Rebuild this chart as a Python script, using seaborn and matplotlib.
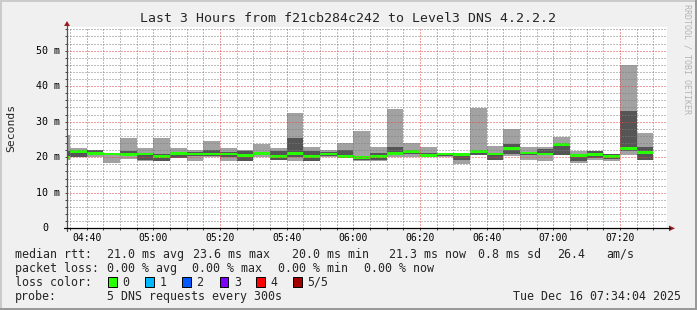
import numpy as np
import pandas as pd
import matplotlib
matplotlib.use("Agg")
import matplotlib.pyplot as plt
import matplotlib.transforms as mtransforms
from matplotlib.patches import Rectangle, Polygon
from matplotlib.lines import Line2D
import seaborn as sns

# ---------------- data ----------------
bar_start = ["04:30", "04:35", "04:40", "04:45", "04:50", "04:55",
             "05:00", "05:05", "05:10", "05:15", "05:20", "05:25",
             "05:30", "05:35", "05:40", "05:45", "05:50", "05:55",
             "06:00", "06:05", "06:10", "06:15", "06:20", "06:25",
             "06:30", "06:35", "06:40", "06:45", "06:50", "06:55",
             "07:00", "07:05", "07:10", "07:15", "07:20", "07:25"]
rtt_min = [19.2, 20.0, 20.0, 18.3, 19.5, 19.0, 18.9, 19.7, 18.9, 20.0, 18.9, 19.0,
           20.2, 19.2, 18.9, 18.9, 20.0, 20.0, 18.9, 18.9, 20.0, 20.0, 20.1, 20.0,
           18.1, 20.6, 19.2, 20.4, 19.2, 19.0, 20.6, 18.4, 19.3, 18.9, 20.6, 19.2]
rtt_p2 = [19.4, 20.1, 20.6, 20.7, 20.3, 19.3, 19.0, 19.8, 20.4, 20.3, 20.2, 19.0,
          20.6, 19.3, 20.1, 19.0, 20.3, 20.1, 19.2, 19.2, 20.5, 20.8, 20.3, 20.3,
          19.2, 20.7, 19.3, 21.0, 20.5, 20.5, 20.6, 19.0, 19.8, 19.6, 21.7, 19.2]
rtt_median = [20.0, 21.6, 21.1, 20.9, 20.8, 20.9, 20.3, 21.0, 20.9, 20.9, 20.9, 20.4,
              21.0, 20.3, 21.0, 20.3, 20.9, 20.3, 20.0, 20.1, 21.0, 21.7, 20.5, 20.9,
              20.8, 21.6, 20.9, 22.4, 21.2, 20.9, 23.6, 20.5, 20.7, 20.1, 22.5, 21.3]
rtt_p4 = [21.8, 22.0, 22.0, 21.1, 21.7, 21.0, 20.9, 21.4, 21.6, 22.0, 21.5, 21.8,
          21.3, 21.8, 25.4, 21.8, 21.6, 22.0, 20.3, 21.1, 23.0, 22.0, 21.2, 21.2,
          21.1, 22.0, 21.2, 23.6, 21.5, 22.3, 23.9, 21.0, 21.7, 20.9, 33.0, 22.9]
rtt_max = [26.3, 22.7, 22.1, 21.2, 25.4, 22.5, 25.4, 22.6, 22.0, 24.7, 22.5, 21.9,
           23.8, 22.6, 32.4, 23.0, 21.9, 23.9, 27.4, 23.0, 33.5, 23.9, 22.9, 21.3,
           21.2, 33.9, 23.3, 27.9, 22.9, 22.9, 25.8, 21.8, 21.8, 21.0, 46.0, 26.8]

x_tick_labels = ["04:40", "05:00", "05:20", "05:40", "06:00", "06:20", "06:40", "07:00", "07:20"]
y_tick_values = [0, 10, 20, 30, 40, 50]
y_tick_labels = ["0", "10 m", "20 m", "30 m", "40 m", "50 m"]

title = "Last 3 Hours from f21cb284c242 to Level3 DNS 4.2.2.2"
loss_labels = ["0", "1", "2", "3", "4", "5/5"]
loss_colors = ["#26ff00", "#00b8ff", "#0059ff", "#7e00ff", "#ff0000", "#a10000"]

# ---------------- helpers ----------------
W, H = 697, 310
def fx(px):
    return px / W
def fy(py):
    return 1 - py / H
def tmin(s):
    return int(s[:2]) * 60 + int(s[3:])

df = pd.DataFrame({"start": [tmin(s) for s in bar_start], "min": rtt_min, "p2": rtt_p2,
                   "med": rtt_median, "p4": rtt_p4, "max": rtt_max})

sns.set_theme(style="white")
MONO = ["DejaVu Sans Mono", "DejaVu Sans"]
plt.rcParams["font.family"] = MONO

fig = plt.figure(figsize=(W / 100, H / 100), dpi=100, facecolor="#f0f0f0")

y0_px, ytop_px = 228.3, 27.0
px_per_ms = 3.553
ax = fig.add_axes([fx(67), fy(y0_px), 600 / W, (y0_px - ytop_px) / H])
ax.set_facecolor("white")
for sp in ax.spines.values():
    sp.set_visible(False)

x_start = tmin("04:34") + 4 / 60
ax.set_xlim(x_start, x_start + 180)
ax.set_ylim(0, (y0_px - ytop_px) / px_per_ms)

# smoke bars
ax.bar(df["start"], df["max"] - df["min"], bottom=df["min"], width=5, align="edge",
       color="#a2a2a2", linewidth=0, zorder=1)
ax.bar(df["start"], df["p4"] - df["p2"], bottom=df["p2"], width=5, align="edge",
       color="#555555", linewidth=0, zorder=1.1)
ax.bar(df["start"], 0.8, bottom=df["med"] - 0.4, width=5, align="edge",
       color="#26ff00", linewidth=0, zorder=1.2)

# grid
major_x = [tmin(s) for s in x_tick_labels]
ax.set_xticks(major_x)
ax.set_xticks(np.arange(tmin("04:35"), tmin("07:35"), 5), minor=True)
ax.set_yticks(y_tick_values)
ax.set_yticks(np.arange(0, 57, 2), minor=True)
ax.set_axisbelow(False)
ax.grid(which="minor", color=(0.5, 0.5, 0.5, 0.3), linestyle=(0, (1, 2)), linewidth=0.72)
ax.grid(which="major", color=(0.9, 0.25, 0.25, 0.35), linestyle=(0, (1, 2)), linewidth=0.72)
ax.tick_params(which="both", direction="out", length=1.5, width=0.7, colors="#404040",
               labelleft=False, labelbottom=False, left=True, bottom=True)

# tick labels (placed via the axes' data scales)
tr_y = mtransforms.blended_transform_factory(fig.transFigure, ax.transData)
char_w = 0.602 * 7.2 * 100 / 72
for v, lab in zip(y_tick_values, y_tick_labels):
    xpos = 36 if len(lab) > 1 else 36 + char_w
    ax.text(fx(xpos), v, lab, transform=tr_y, ha="left", va="center", fontsize=7.2,
            color="black", clip_on=False)
tr_x = mtransforms.blended_transform_factory(ax.transData, fig.transFigure)
for t, lab in zip(major_x, x_tick_labels):
    ax.text(t, fy(238), lab, transform=tr_x, ha="center", va="center", fontsize=7,
            color="black", clip_on=False)

# axis lines with arrows
arrow_col = "#9b1c1c"
fig.add_artist(Line2D([fx(67), fx(67)], [fy(231), fy(25)], color="#505050", lw=0.9,
                      transform=fig.transFigure))
fig.add_artist(Line2D([fx(63.5), fx(670)], [fy(y0_px), fy(y0_px)], color="black", lw=0.9,
                      transform=fig.transFigure))
fig.add_artist(Polygon([[fx(64), fy(26)], [fx(70), fy(26)], [fx(67), fy(21)]], closed=True,
                       color=arrow_col, transform=fig.transFigure, lw=0))
fig.add_artist(Polygon([[fx(669), fy(225.5)], [fx(669), fy(231.2)], [fx(675), fy(228.3)]],
                       closed=True, color=arrow_col, transform=fig.transFigure, lw=0))

# title and axis label
fig.text(fx(348), fy(19), title, ha="center", va="center", fontsize=9.5)
fig.text(fx(11), fy(128), "Seconds", rotation=90, ha="center", va="center", fontsize=8.2)
fig.text(fx(687), fy(59), "RRDTOOL / TOBI OETIKER", rotation=270, ha="center", va="center",
         fontsize=6, color="#b4b4b4")

# legend block
LF = 8.4
rows = [
    (254.3, [(16, "median rtt:"), (108, "21.0 ms avg"), (194, "23.6 ms max"),
             (293, "20.0 ms min"), (390, "21.3 ms now"), (479, "0.8 ms sd"),
             (558, "26.4"), (607, "am/s")]),
    (268.3, [(16, "packet loss:"), (107.6, "0.00 % avg"), (192.4, "0.00 % max"),
             (278.7, "0.00 % min"), (364.4, "0.00 % now")]),
    (282.3, [(16, "loss color:")]),
    (296.3, [(16, "probe:"), (108, "5 DNS requests every 300s")]),
]
for yy, items in rows:
    for xx, s in items:
        fig.text(fx(xx - 0.8), fy(yy), s, ha="left", va="center", fontsize=LF)
box_x = [108, 145, 182, 219.5, 256, 293]
for bx, lab, col in zip(box_x, loss_labels, loss_colors):
    fig.add_artist(Rectangle((fx(bx), fy(286.5)), 8.5 / W, 9.5 / H, facecolor=col,
                             edgecolor="black", lw=0.7, transform=fig.transFigure))
    fig.text(fx(bx + 14.5), fy(282.3), lab, ha="left", va="center", fontsize=LF)
fig.text(fx(681), fy(296.3), "Tue Dec 16 07:34:04 2025", ha="right", va="center", fontsize=LF)

# outer shading frame
fig.add_artist(Rectangle((0, 1 - 2 / H), 1, 2 / H, color="#cbcbcb", lw=0, transform=fig.transFigure))
fig.add_artist(Rectangle((0, 0), 2 / W, 1, color="#cbcbcb", lw=0, transform=fig.transFigure))
fig.add_artist(Rectangle((0, 0), 1, 2.5 / H, color="#999999", lw=0, transform=fig.transFigure))
fig.add_artist(Rectangle((1 - 2.5 / W, 0), 2.5 / W, 1, color="#999999", lw=0, transform=fig.transFigure))

fig.savefig("out.png", dpi=100, facecolor=fig.get_facecolor())
